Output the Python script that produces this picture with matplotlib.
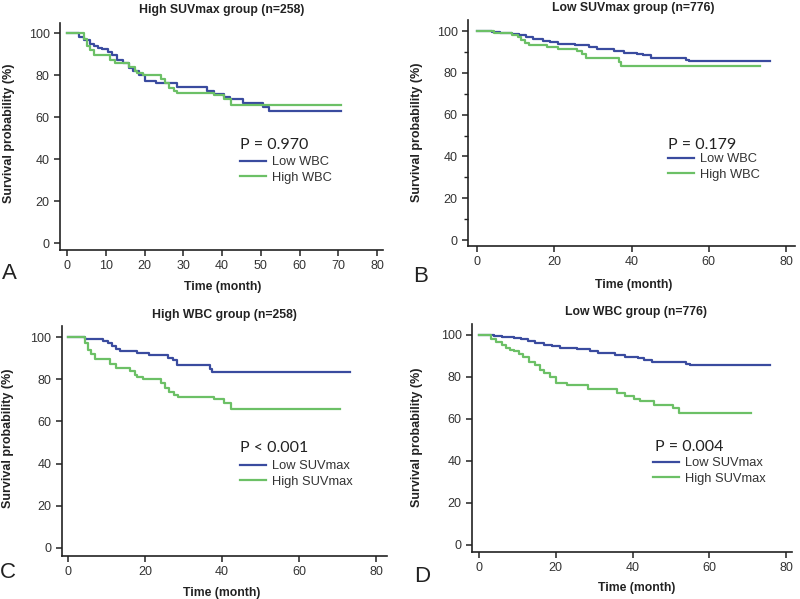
import matplotlib
matplotlib.use("Agg")
import matplotlib.pyplot as plt
from matplotlib.ticker import MultipleLocator

# Kaplan-Meier step curves (time in months, survival in %)
# high SUVmax / low WBC  (A blue, D green)
hs_lw_t = [0, 3, 4.5, 6, 7, 8, 9, 10.5, 11.5, 13, 14.5, 16, 17, 18.5, 20, 23, 28.5,
           36, 38, 40.5, 42, 45.5, 50.5, 52, 70.8]
hs_lw_s = [100, 98, 96.5, 95, 94, 93, 92.5, 91, 89.7, 87.3, 85.5, 83.5, 82, 80.2, 77.3, 76, 74.2,
           72.3, 70.8, 69.5, 68.5, 66.8, 65, 63, 63]
# high SUVmax / high WBC  (A green, C green)
hs_hw_t = [0, 4.5, 5.2, 6, 7, 11, 12.5, 16, 17.5, 18, 19.5, 24.2, 25.2, 26.3, 27.5, 28.5,
           38, 40.5, 42.3, 70.6]
hs_hw_s = [100, 97, 94, 92, 89.6, 87, 85.5, 84, 82, 81, 80, 78, 76, 74, 72.5, 71.4,
           70.5, 68.7, 65.9, 65.9]
# low SUVmax / low WBC  (B blue, D blue)
ls_lw_t = [0, 4, 6, 9, 11, 12.8, 14.5, 17, 19, 21, 25.5, 29, 31, 35.5, 38, 41.5, 43, 45,
           54, 55, 75.8]
ls_lw_s = [100, 99.6, 99.2, 98.7, 98, 97.2, 96.2, 95.4, 94.6, 94, 93.2, 92.3, 91.3, 90.3,
           89.6, 89, 88.3, 87.2, 86.2, 85.5, 85.5]
# low SUVmax / high WBC  (B green, C blue)
ls_hw_t = [0, 4.5, 9, 10.5, 11.5, 12.5, 13.5, 18, 21, 26, 27.2, 28.2, 36.8, 37.4, 73.3]
ls_hw_s = [100, 99, 98, 97, 95.6, 94.2, 93.3, 92.4, 91.4, 90.2, 89, 86.9, 85, 83.3, 83.3]

titles = ["High SUVmax group (n=258)", "Low SUVmax group (n=776)",
          "High WBC group (n=258)", "Low WBC group (n=776)"]
p_texts = ["P = 0.970", "P = 0.179", "P < 0.001", "P = 0.004"]
wbc_labels = ["Low WBC", "High WBC"]
suv_labels = ["Low SUVmax", "High SUVmax"]
letters = ["A", "B", "C", "D"]

BLUE = "#3a4b9f"
GREEN = "#6cc066"
TXT = "#222222"
W, H = 800, 599

plt.rcParams["font.family"] = ["Liberation Sans", "DejaVu Sans"]

fig = plt.figure(figsize=(8, 5.99), dpi=100)


def fx(x):
    return x / W


def fy(y):
    return 1 - y / H


def make_axes(x0, x80, y100, y0, xlim, ylim):
    sx = (x80 - x0) / 80.0
    sy = (y0 - y100) / 100.0
    left = x0 + xlim[0] * sx
    right = x0 + xlim[1] * sx
    bottom = y0 - ylim[0] * sy
    top = y0 - ylim[1] * sy
    ax = fig.add_axes([fx(left), fy(bottom), (right - left) / W, (bottom - top) / H])
    ax.set_xlim(*xlim)
    ax.set_ylim(*ylim)
    for s in ["top", "right"]:
        ax.spines[s].set_visible(False)
    for s in ["left", "bottom"]:
        ax.spines[s].set_linewidth(1.2)
        ax.spines[s].set_color("#222222")
    ax.tick_params(direction="out", length=4.5, width=1.1, color="#222222",
                   labelsize=9, labelcolor="#333333", pad=3)
    ax.tick_params(which="minor", direction="out", length=3, width=1.0, color="#222222")
    ax.set_yticks([0, 20, 40, 60, 80, 100])
    ax.patch.set_alpha(0)
    return ax


panels = [
    dict(cal=(67, 377, 33, 243), xlim=(-1.8, 81.5), ylim=(-3.3, 105),
         curves=[(hs_lw_t, hs_lw_s), (hs_hw_t, hs_hw_s)], labels=wbc_labels,
         xstep=10, yminor=False,
         title=(222, 10), ylab=(9, 133), xlab=(223, 287), letter=(2, 274),
         p=(240, 145), leg=(240, 156)),
    dict(cal=(477, 786, 31, 240), xlim=(-2.3, 82.3), ylim=(-2.9, 105.3),
         curves=[(ls_lw_t, ls_lw_s), (ls_hw_t, ls_hw_s)], labels=wbc_labels,
         xstep=20, yminor=True,
         title=(633, 8), ylab=(417, 132), xlab=(634, 285), letter=(413, 277),
         p=(668, 145), leg=(668, 153)),
    dict(cal=(68, 376, 337, 548), xlim=(-1.6, 82.9), ylim=(-3.8, 105),
         curves=[(ls_hw_t, ls_hw_s), (hs_hw_t, hs_hw_s)], labels=suv_labels,
         xstep=20, yminor=False,
         title=(224, 315), ylab=(8, 438), xlab=(222, 593), letter=(0, 573),
         p=(240, 448), leg=(240, 460)),
    dict(cal=(479, 786, 335, 545), xlim=(-1.8, 81.5), ylim=(-3.3, 105),
         curves=[(ls_lw_t, ls_lw_s), (hs_lw_t, hs_lw_s)], labels=suv_labels,
         xstep=20, yminor=False,
         title=(636, 312), ylab=(417, 437), xlab=(637, 588), letter=(414, 577),
         p=(655, 447), leg=(653, 457)),
]

for i, pn in enumerate(panels):
    ax = make_axes(*pn["cal"], pn["xlim"], pn["ylim"])
    ax.set_xticks(range(0, 81, pn["xstep"]))
    if pn["yminor"]:
        ax.yaxis.set_minor_locator(MultipleLocator(10))
    handles = []
    for (t, s), c, lab in zip(pn["curves"], [BLUE, GREEN], pn["labels"]):
        h, = ax.step(t, s, where="post", color=c, lw=1.6, label=lab)
        handles.append(h)

    fig.text(fx(pn["title"][0]), fy(pn["title"][1]), titles[i], ha="center", va="center",
             fontsize=8.8, fontweight="bold", color=TXT)
    fig.text(fx(pn["ylab"][0]), fy(pn["ylab"][1]), "Survival probability (%)", rotation=90,
             ha="center", va="center", fontsize=9, fontweight="bold", color=TXT)
    fig.text(fx(pn["xlab"][0]), fy(pn["xlab"][1]), "Time (month)", ha="center", va="center",
             fontsize=8.8, fontweight="bold", color=TXT)
    fig.text(fx(pn["letter"][0]), fy(pn["letter"][1]), letters[i], ha="left", va="center",
             fontsize=16, color=TXT)
    fig.text(fx(pn["p"][0]), fy(pn["p"][1]), p_texts[i], ha="left", va="center",
             fontsize=11.5, family=["Lato", "DejaVu Sans"], color=TXT)
    ax.legend(handles=handles, loc="upper left",
              bbox_to_anchor=(fx(pn["leg"][0]), fy(pn["leg"][1])),
              bbox_transform=fig.transFigure, frameon=False, fontsize=9.3,
              borderpad=0, borderaxespad=0, handlelength=2.0, handletextpad=0.5,
              labelspacing=0.28, labelcolor="#333333")

fig.savefig("out.png", dpi=100)
